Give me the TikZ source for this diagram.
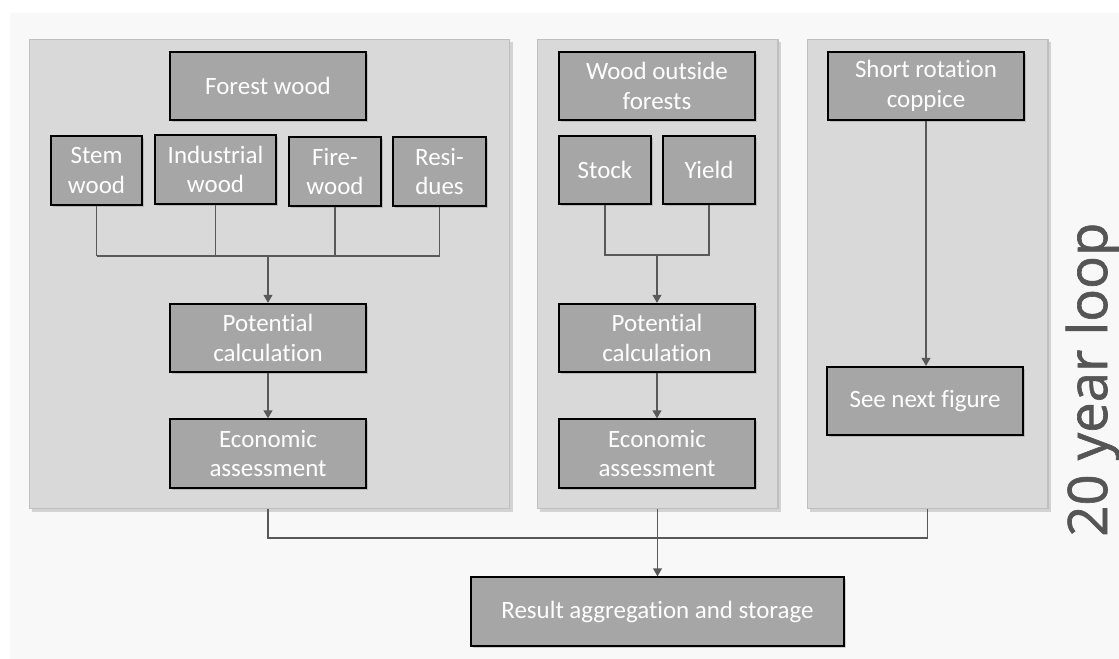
\documentclass[tikz,border=0pt]{standalone}
\usepackage{fontspec}
\setmainfont{Carlito}[Ligatures=NoCommon]
\newfontfamily\loopfont{Open Sans}[FakeBold=1.2]
\usepackage{xcolor}
\usetikzlibrary{arrows.meta,shadows}

\definecolor{sheet}{HTML}{F8F8F8}
\definecolor{panelfill}{HTML}{D9D9D9}
\definecolor{panelline}{HTML}{BFBFBF}
\definecolor{boxfill}{HTML}{A6A6A6}
\definecolor{wire}{HTML}{595959}
\definecolor{looptext}{HTML}{555555}

\begin{document}
\begin{tikzpicture}[x=0.02cm,y=-0.02cm,
  panel/.style={draw=panelline, fill=panelfill, line width=0.6pt, inner sep=0pt,
    minimum height=9.4cm,
    drop shadow={shadow xshift=1.5pt, shadow yshift=-1.5pt, opacity=0.3}},
  box/.style={draw=black, fill=boxfill, line width=1pt, text=white, align=center,
    inner sep=0pt, minimum height=1.37cm, font=\fontsize{14.2}{16.8}\selectfont,
    drop shadow={shadow xshift=1.2pt, shadow yshift=-1.2pt, opacity=0.35}},
  link/.style={draw=wire, line width=0.6pt},
  arrow/.style={link, -{Triangle[length=4.5pt,width=5pt]}}]
\useasboundingbox (0,0) rectangle (1119,659);
\fill[sheet] (10,13) rectangle (1119,659);

% the three panels
\node[panel, minimum width=9.62cm] (pforest) at (269.5,274) {};
\node[panel, minimum width=4.82cm] (pwof) at (657.5,274) {};
\node[panel, minimum width=4.82cm] (psrc) at (927.5,274) {};

% forest wood
\node[box, minimum width=3.92cm] (forest) at (268,86) {Forest wood};
\node[box, minimum width=1.82cm] (stem) at (96.5,170.5) {Stem\\wood};
\node[box, minimum width=2.42cm] (industrial) at (215.5,169.5) {Industrial\\wood};
\node[box, minimum width=1.84cm] (fire) at (335,171.5) {Fire-\\wood};
\node[box, minimum width=1.86cm] (residues) at (439.5,171.5) {Resi-\\dues};
\node[box, minimum width=3.92cm] (pot1) at (268,338) {Potential\\calculation};
\node[box, minimum width=3.92cm] (econ1) at (268,453.5) {Economic\\assessment};
\coordinate (fbus) at (268,256);
\foreach \n in {stem,industrial,fire,residues}
{
	\draw[link] (\n.south) -- (\n.south |- fbus);
}
\draw[link] (stem.south |- fbus) -- (residues.south |- fbus);
\draw[arrow] (fbus) -- (pot1.north);
\draw[arrow] (pot1) -- (econ1);

% wood outside forests
\node[box, minimum width=3.92cm] (wof) at (657,86) {Wood outside\\forests};
\node[box, minimum width=1.84cm] (stock) at (605,170) {Stock};
\node[box, minimum width=1.84cm] (yield) at (709,170) {Yield};
\node[box, minimum width=3.92cm] (pot2) at (657,338) {Potential\\calculation};
\node[box, minimum width=3.92cm] (econ2) at (657,453.5) {Economic\\assessment};
\coordinate (wbus) at (657,255);
\draw[link] (stock.south) |- (wbus) -| (yield.south);
\draw[arrow] (wbus) -- (pot2.north);
\draw[arrow] (pot2) -- (econ2);

% short rotation coppice
\node[box, minimum width=3.92cm] (src) at (926,86) {Short rotation\\coppice};
\node[box, minimum width=3.92cm] (next) at (925,401) {See next figure};
\draw[arrow] (src.south) -- (src.south |- next.north);

% aggregation
\node[box, minimum width=7.46cm] (result) at (657.5,611.5) {Result aggregation and storage};
\coordinate (rbus) at (657,538);
\draw[link] (pforest.south -| econ1) |- (rbus) -| (psrc.south);
\draw[arrow] (pwof.south) -- (result.north);

\node[rotate=90, anchor=base west, inner sep=0pt, text=looptext,
  font=\loopfont\fontsize{31}{31}\selectfont] (loop) at (1107,537) {20 year loop};
\end{tikzpicture}
\end{document}
